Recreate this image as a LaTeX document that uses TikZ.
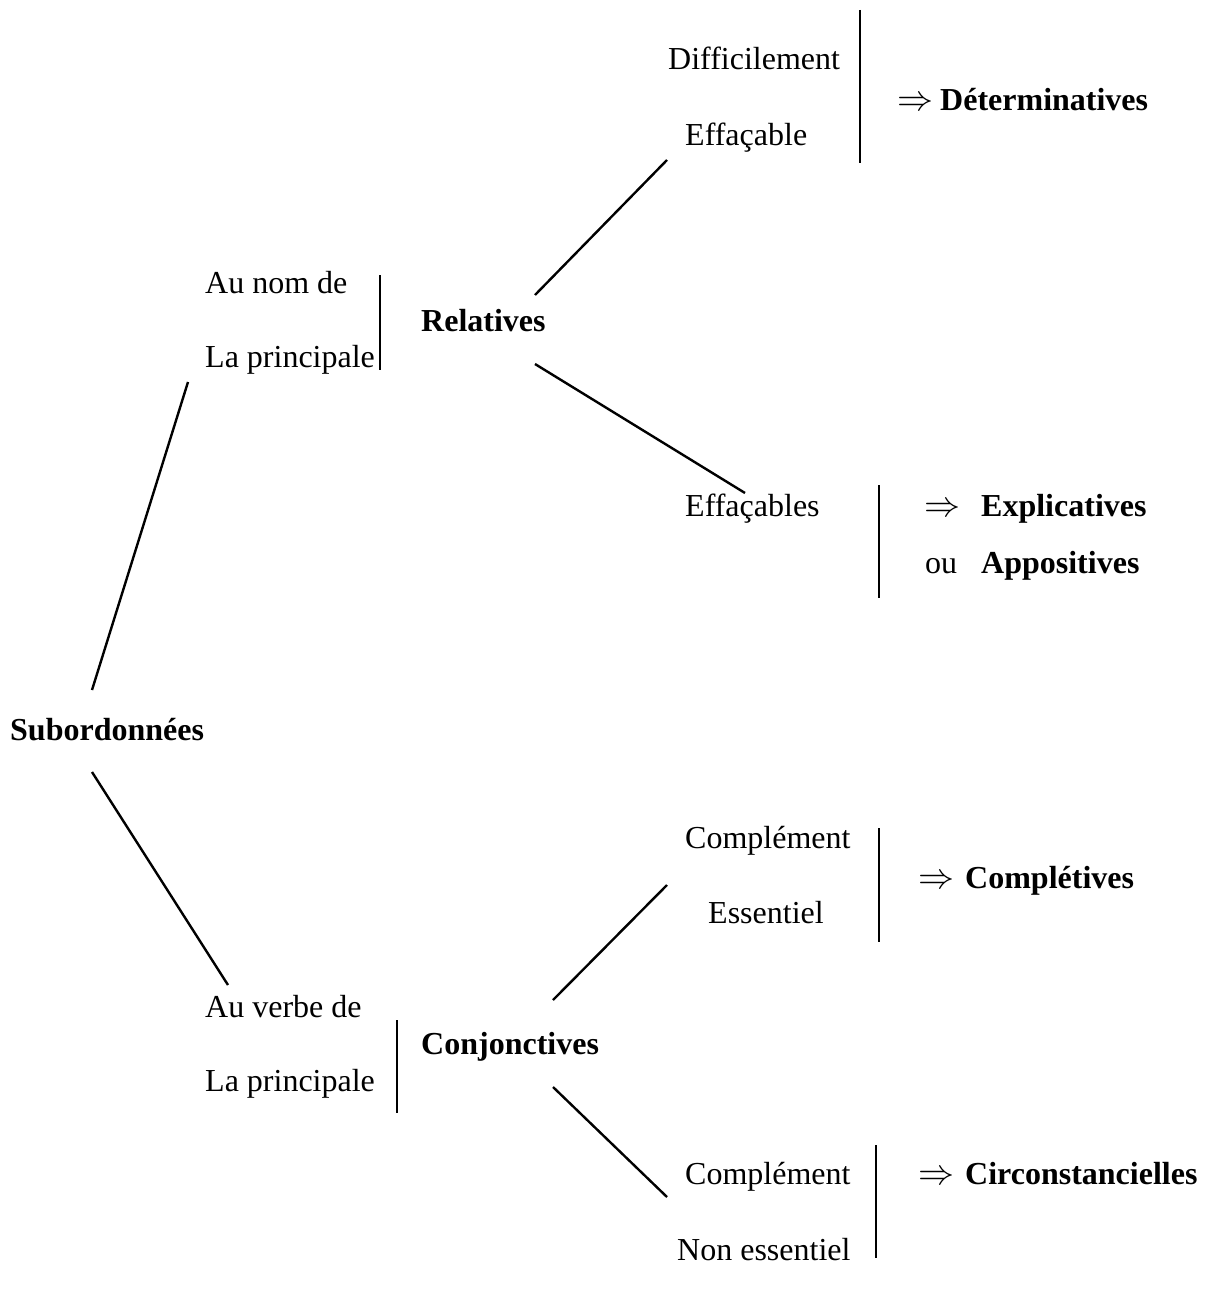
\RequirePackage{fix-cm}
\documentclass[tikz,border=0pt]{standalone}
\usepackage{fontspec}
\setmainfont{Liberation Serif}
\begin{document}
\begin{tikzpicture}[x=1pt,y=-1pt,
  lbl/.style={anchor=base west,inner sep=0pt,font=\fontsize{32}{38}\selectfont},
  blbl/.style={lbl,font=\fontsize{32}{38}\selectfont\bfseries},
  arrw/.style={lbl,font=\fontsize{36}{40}\selectfont},
  conn/.style={line width=2.4pt,black},
  bar/.style={line width=2.8pt,black}]
\useasboundingbox (0,0) rectangle (1205,1298);
% texts
\node[lbl]  (diff)  at (668,70)  {Difficilement};
\node[lbl]  (effa)  at (685,145) {Effaçable};
\node[arrw] (arr1)  at (897,110) {$\Rightarrow$};
\node[blbl] (deter) at (940,110) {Déterminatives};
\node[lbl]  (aunom) at (205,293) {Au nom de};
\node[lbl]  (lap1)  at (205,367) {La principale};
\node[blbl] (rel)   at (421,331) {Relatives};
\node[lbl]  (effas) at (685,516) {Effaçables};
\node[arrw] (arr2)  at (924,516) {$\Rightarrow$};
\node[blbl] (expl)  at (981,516) {Explicatives};
\node[lbl]  (ou)    at (925,573) {ou};
\node[blbl] (appo)  at (981,573) {Appositives};
\node[blbl] (sub)   at (10,740)  {Subordonnées};
\node[lbl]  (comp1) at (685,848) {Complément};
\node[lbl]  (ess)   at (708,923) {Essentiel};
\node[arrw] (arr3)  at (918,888) {$\Rightarrow$};
\node[blbl] (cplt)  at (965,888) {Complétives};
\node[lbl]  (auvb)  at (205,1017) {Au verbe de};
\node[lbl]  (lap2)  at (205,1091) {La principale};
\node[blbl] (conj)  at (421,1054) {Conjonctives};
\node[lbl]  (comp2) at (685,1184) {Complément};
\node[arrw] (arr4)  at (918,1184) {$\Rightarrow$};
\node[blbl] (circ)  at (965,1184) {Circonstancielles};
\node[lbl]  (noness) at (677,1260) {Non essentiel};
% connector end points
\coordinate (s1) at (92,690);   \coordinate (s2) at (188,382);
\coordinate (s3) at (92,772);   \coordinate (s4) at (228,985);
\coordinate (r1) at (535,295);  \coordinate (r2) at (667,160);
\coordinate (r3) at (535,364);  \coordinate (r4) at (745,493);
\coordinate (c1) at (553,1000); \coordinate (c2) at (667,885);
\coordinate (c3) at (553,1087); \coordinate (c4) at (667,1197);
\draw[conn] (s1) -- (s2);
\draw[conn] (s3) -- (s4);
\draw[conn] (r1) -- (r2);
\draw[conn] (r3) -- (r4);
\draw[conn] (c1) -- (c2);
\draw[conn] (c3) -- (c4);
% vertical bars
\coordinate (v1a) at (860,10);   \coordinate (v1b) at (860,163);
\coordinate (v2a) at (380,275);  \coordinate (v2b) at (380,370);
\coordinate (v3a) at (879,485);  \coordinate (v3b) at (879,598);
\coordinate (v4a) at (879,828);  \coordinate (v4b) at (879,942);
\coordinate (v5a) at (397,1020); \coordinate (v5b) at (397,1113);
\coordinate (v6a) at (876,1145); \coordinate (v6b) at (876,1258);
\draw[bar] (v1a) -- (v1b);
\draw[bar] (v2a) -- (v2b);
\draw[bar] (v3a) -- (v3b);
\draw[bar] (v4a) -- (v4b);
\draw[bar] (v5a) -- (v5b);
\draw[bar] (v6a) -- (v6b);
\end{tikzpicture}
\end{document}
